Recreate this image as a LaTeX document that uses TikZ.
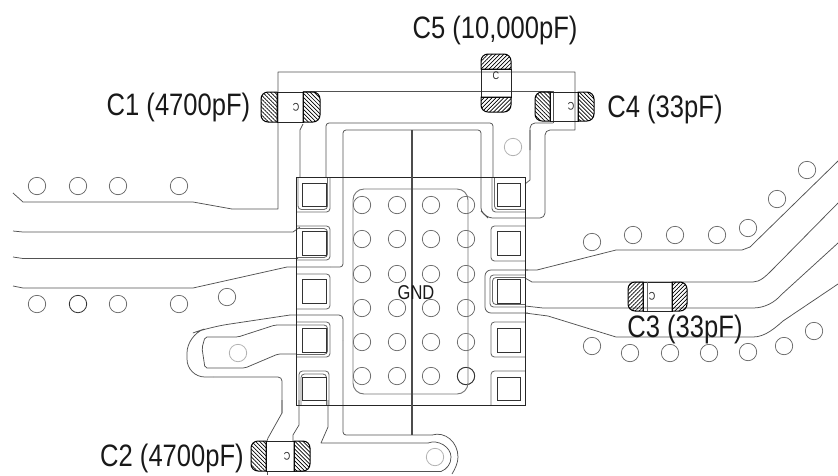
\documentclass[tikz,border=0pt]{standalone}
\usepackage{fontspec}
\setmainfont{Liberation Sans}[FakeStretch=0.825]
\usetikzlibrary{patterns.meta}
\tikzset{
  trace/.style={draw=black!68,line width=.75pt,line join=round},
  ring/.style={draw=black!58,line width=.85pt,rounded corners=3.5pt},
  outline/.style={draw=black!85,line width=.9pt},
  axis/.style={draw=black!70,line width=1.4pt},
  padsq/.style={draw=black!80,line width=1pt},
  via/.style={draw=black!62,line width=.7pt},
  lightvia/.style={draw=black!30,line width=.8pt},
  darkvia/.style={draw=black!80,line width=.8pt},
  body/.style={draw=black!85,line width=.8pt},
  hatchne/.style={draw=black,line width=1pt,pattern={Lines[angle=45,distance=2.8pt,line width=.7pt]},pattern color=black},
  hatchnw/.style={draw=black,line width=1pt,pattern={Lines[angle=-45,distance=2.8pt,line width=.7pt]},pattern color=black},
  lbl/.style={font=\fontsize{31}{32}\selectfont,inner sep=0pt,text=black!90},
  gndlbl/.style={font=\fontsize{20}{21}\selectfont,inner sep=0pt,text=black!90},
  clbl/.style={font=\fontsize{11}{11}\selectfont,inner sep=0pt,text=black!85},
}
\begin{document}
\begin{tikzpicture}[x=1pt,y=-1pt]
\useasboundingbox (0,0) rectangle (838,475);
% ---------- vias
\foreach \x in {362,397,431,466} \foreach \y in {205,239,274,308,342,376}
  \draw[via] (\x,\y) circle[radius=8.7pt];
\draw[darkvia] (466,376) circle[radius=8.7pt];
\foreach \x/\y in {37/186,78/186,118/186,179/186,37/304,118/304,179/304,227/297,
  592/242,633/235,675/235,717/235,748/228,777/199,807/170,
  592/346,630/353,670/353,709/353,748/352,784/346,814/331}
  \draw[via] (\x,\y) circle[radius=8.7pt];
\draw[darkvia] (78,304) circle[radius=8.7pt];
\foreach \x/\y in {513/147,238/353,435/457}
  \draw[lightvia] (\x,\y) circle[radius=8.7pt];
% ---------- ground area
\draw[draw=black!55,line width=.9pt,rounded corners=11pt] (353,189) rectangle (468,394);
% ---------- traces left
\draw[trace] (13,193) -- (23,202) -- (193,202) -- (232,209) -- (278,209) -- (278,72) -- (575,72) -- (575,130)
  -- (550,130) [rounded corners=5pt] -- (545,130) -- (545,218) -- (488,218) [sharp corners] -- (481,211);
\draw[trace,rounded corners=3pt] (488,218) -- (481,211) -- (481,130) -- (343,130) -- (343,267) -- (330,267);
\draw[trace] (330,267) -- (287,267) -- (193,288) -- (23,288) -- (13,286);
\draw[trace] (13,231) -- (23,232) -- (293,232) -- (300,227);
\draw[trace] (13,257) -- (23,258.5) -- (298,258.5);
% trace to pad 4, left
\draw[trace,rounded corners=4pt] (343,340) -- (343,315) -- (290,315);
\draw[trace,rounded corners=18pt] (290,315) -- (210,327) -- (187,335) -- (187,377) -- (213,377);
\draw[trace,rounded corners=4pt] (213,377) -- (282,377) -- (282,413);
\draw[trace] (282,400) -- (282,413) -- (268,438) -- (267,441);
\draw[trace,rounded corners=2pt] (296,325) -- (275,325) -- (238,337) -- (205,337) -- (202,348) -- (205,368) -- (245,368) -- (278,354) -- (296,354);
% ---------- bottom traces
\draw[trace,rounded corners=3pt] (343,340) -- (343,435) -- (432,435);
\draw[trace] (432,435) .. controls (445,431) and (458,442) .. (458,457) .. controls (458,463) and (455,469) .. (452,474);
\draw[trace] (328,400) -- (328,427) -- (321,443) -- (428,443);
\draw[trace] (428,443) .. controls (438,439) and (451,447) .. (451,457) .. controls (451,464) and (447,469) .. (441,471.5) -- (293,471.5);
\draw[trace] (299,400) -- (299,425) -- (293,435) -- (293,441);
\draw[trace] (267,471) -- (267,475);
% ---------- top pad traces
\draw[trace] (300,177) -- (300,130) -- (303,124);
\draw[trace,rounded corners=3pt] (326,177) -- (326,123) -- (493,123) -- (493,177);
\draw[trace] (525,184) -- (530,180) -- (530,130);
\draw[trace,rounded corners=5pt] (530,150) -- (530,123) -- (553,123);
\draw[trace] (553,123) -- (553,91) -- (303,91) -- (303,122);
% ---------- traces right
\draw[trace] (525,270) -- (537,270) -- (616,250) -- (742,250) -- (750,247) -- (838,161);
\draw[trace,rounded corners=6pt] (528,270) -- (485,270) -- (485,313) -- (528,313);
\draw[trace] (525,313) -- (548,316) -- (616,337) -- (753,337) .. controls (765,337) and (775,328) .. (783,321) -- (838,284);
\draw[trace] (525,278) -- (532,282) -- (753,282) .. controls (760,282) and (766,276) .. (772,270) -- (838,203);
\draw[trace] (525,306) -- (543,308) -- (753,308) .. controls (765,308) and (775,302) .. (781,295) -- (838,243);
% ---------- pad rings, left column
\draw[ring] (296,212) -- (330,212) -- (330,177);
\draw[ring] (298,177) -- (298,209.5) -- (327.5,209.5) -- (327.5,177);
\draw[ring] (296,226) -- (330,226) -- (330,260) -- (296,260);
\draw[ring] (297,228.5) -- (327.5,228.5) -- (327.5,257.5) -- (297,257.5);
\draw[ring] (296,274) -- (330,274) -- (330,309) -- (296,309);
\draw[ring] (296,322) -- (330,322) -- (330,357) -- (296,357);
\draw[ring] (296,325) -- (327.5,325) -- (327.5,354.5) -- (296,354.5);
\draw[ring] (299,405) -- (299,371) -- (329,371) -- (329,405);
\draw[ring] (301,405) -- (301,374) -- (326.5,374) -- (326.5,405);
% ---------- pad rings, right column
\draw[ring] (492,177) -- (492,212) -- (525,212);
\draw[ring] (494.5,177) -- (494.5,209.5) -- (525,209.5);
\draw[ring] (525,226) -- (491,226) -- (491,261) -- (525,261);
\draw[ring] (525,275) -- (490,275) -- (490,307) -- (525,307);
\draw[ring] (525,277.5) -- (492.5,277.5) -- (492.5,304.5) -- (525,304.5);
\draw[ring] (525,322) -- (491,322) -- (491,357) -- (525,357);
\draw[ring] (525,371) -- (491,371) -- (491,405);
% ---------- pads
\foreach \y/\z in {183/206.5,231.5/255,279/303,328/352,377/400}{
  \draw[padsq] (302,\y) rectangle (326,\z);
  \draw[padsq] (497,\y) rectangle (520.5,\z);
}
% ---------- package outline and axis
\draw[outline] (296,177) rectangle (525.5,405);
\draw[axis] (412,130) -- (412,435);
% ---------- capacitors
% C1
\draw[body] (277,92) rectangle (303,122);
\draw[hatchnw] (277,92) [rounded corners=7pt] -- (261,92) -- (261,122) [sharp corners] -- (277,122) -- cycle;
\draw[hatchnw] (303,92) [rounded corners=7pt] -- (320,92) -- (320,122) [sharp corners] -- (303,122) -- cycle;
\node[clbl,rotate=180] (c1c) at (296,107) {C};
% C4
\draw[body] (550,92) rectangle (578,121);
\draw[hatchnw] (550,92) [rounded corners=7pt] -- (535,92) -- (535,121) [sharp corners] -- (550,121) -- cycle;
\draw[hatchnw] (578,92) [rounded corners=7pt] -- (594,92) -- (594,121) [sharp corners] -- (578,121) -- cycle;
\node[clbl,rotate=180] (c4c) at (571,106) {C};
% C5
\draw[body] (481,69) rectangle (511,97);
\draw[hatchne] (481,69) [rounded corners=7pt] -- (481,54) -- (511,54) [sharp corners] -- (511,69) -- cycle;
\draw[hatchne] (481,97) [rounded corners=7pt] -- (481,112) -- (511,112) [sharp corners] -- (511,97) -- cycle;
\node[clbl] (c5c) at (496,76) {C};
% C3
\draw[body] (643,282) rectangle (672,311);
\draw[draw=black!60,line width=.7pt] (647,282) -- (647,311);
\draw[hatchne] (643,282) [rounded corners=7pt] -- (628,282) -- (628,311) [sharp corners] -- (643,311) -- cycle;
\draw[hatchne] (672,282) [rounded corners=7pt] -- (687,282) -- (687,311) [sharp corners] -- (672,311) -- cycle;
\node[clbl,rotate=180] (c3c) at (652,296) {C};
% C2
\draw[body] (266,441) rectangle (294,471);
\draw[hatchnw] (266,441) [rounded corners=7pt] -- (251,441) -- (251,471) [sharp corners] -- (266,471) -- cycle;
\draw[hatchnw] (294,441) [rounded corners=7pt] -- (310,441) -- (310,471) [sharp corners] -- (294,471) -- cycle;
\node[clbl,rotate=180] (c2c) at (287,456) {C};
% ---------- labels
\node[lbl,anchor=base] (l5) at (495,38) {C5 (10,000pF)};
\node[lbl,anchor=base] (l1) at (178.5,115) {C1 (4700pF)};
\node[lbl,anchor=base] (l4) at (665,117) {C4 (33pF)};
\node[lbl,anchor=base] (l3) at (685,337) {C3 (33pF)};
\node[lbl,anchor=base] (l2) at (172,466) {C2 (4700pF)};
\node[gndlbl,anchor=base] (gnd) at (416,299) {GND};
\end{tikzpicture}
\end{document}
